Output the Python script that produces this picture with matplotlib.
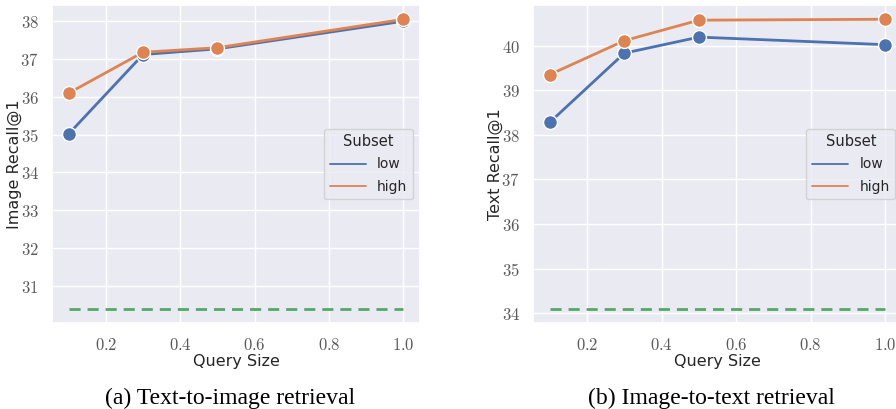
import numpy as np
import matplotlib
matplotlib.use("Agg")
import matplotlib.pyplot as plt
from matplotlib.lines import Line2D
from matplotlib.ticker import FuncFormatter, MultipleLocator
import seaborn as sns

query_size = [0.1, 0.3, 0.5, 1.0]

# text-to-image (Image Recall@1)
t2i_low = [35.02, 37.12, 37.27, 38.00]
t2i_high = [36.10, 37.18, 37.30, 38.05]
t2i_base = 30.40

# image-to-text (Text Recall@1)
i2t_low = [38.28, 39.83, 40.19, 40.02]
i2t_high = [39.35, 40.11, 40.57, 40.59]
i2t_base = 34.10

captions = ["(a) Text-to-image retrieval", "(b) Image-to-text retrieval"]
ylabels = ["Image Recall@1", "Text Recall@1"]

sns.set_theme(style="darkgrid")
plt.rcParams['font.family'] = ['DejaVu Sans']
plt.rcParams['mathtext.fontset'] = 'cm'

blue, orange, green = "#4C72B0", "#DD8452", "#55A868"

fig = plt.figure(figsize=(8.96, 4.09), dpi=100)
ax1 = fig.add_axes([0.058, 0.2103, 0.4107, 0.7775])
ax2 = fig.add_axes([0.5949, 0.2103, 0.4118, 0.7775])

panels = [(ax1, t2i_low, t2i_high, t2i_base), (ax2, i2t_low, i2t_high, i2t_base)]
for i, (ax, low, high, base) in enumerate(panels):
    ax.plot(query_size, low, color=blue, lw=2, marker="o", ms=10,
            mec="white", mew=1, zorder=3)
    ax.plot(query_size, high, color=orange, lw=2, marker="o", ms=10,
            mec="white", mew=1, zorder=4)
    ax.plot([query_size[0], query_size[-1]], [base, base], color=green,
            lw=2, ls=(0, (4, 2.5)), zorder=2)
    ax.yaxis.set_major_locator(MultipleLocator(1))
    ax.xaxis.set_major_locator(MultipleLocator(0.2))
    ax.xaxis.set_major_formatter(FuncFormatter(lambda v, p: rf"${v:.1f}$"))
    ax.yaxis.set_major_formatter(FuncFormatter(lambda v, p: rf"${v:.0f}$"))
    ax.tick_params(labelsize=12, colors=".35")
    ax.set_xlabel("Query Size", fontsize=11.5, color=".15", labelpad=0)
    ax.set_ylabel(ylabels[i], fontsize=11.5, color=".15", labelpad=-1)
    handles = [Line2D([], [], color=blue, lw=1.3), Line2D([], [], color=orange, lw=1.3)]
    leg = ax.legend(handles, ["low", "high"], title="Subset", loc="center right",
                    fontsize=10, title_fontsize=10.5, handlelength=2.6,
                    labelspacing=0.6)
    for t in leg.get_texts():
        t.set_color(".15")

ax1.set_ylim(30.02, 38.43)
ax2.set_ylim(33.78, 40.91)
for ax in (ax1, ax2):
    ax.set_xlim(0.055, 1.045)

fig.text(0.257, 0.012, captions[0], ha="center", fontsize=17,
         family="Liberation Serif", color="black")
fig.text(0.794, 0.012, captions[1], ha="center", fontsize=17,
         family="Liberation Serif", color="black")

fig.savefig("out.png", dpi=100)
